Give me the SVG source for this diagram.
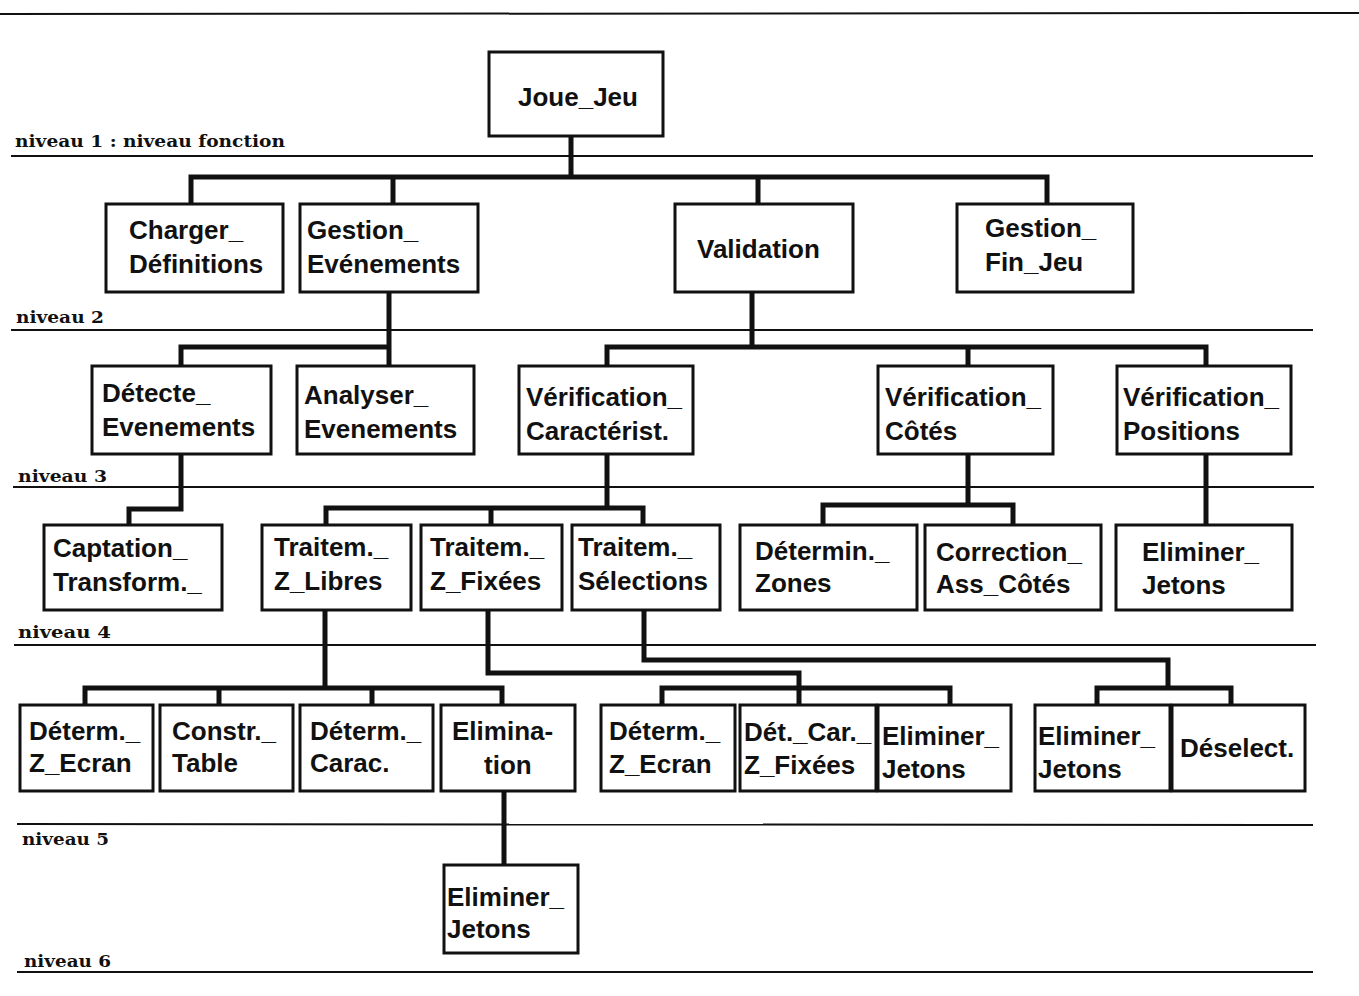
<svg xmlns="http://www.w3.org/2000/svg" width="1359" height="996" viewBox="0 0 1359 996">
<style>
.bg{fill:#ffffff}
.box{fill:#ffffff;stroke:#111111;stroke-width:3}
.t{font-family:"Liberation Sans",Arial,sans-serif;font-weight:bold;font-size:26px;fill:#111111}
.lvl{font-family:"DejaVu Serif","Liberation Serif",serif;font-weight:bold;font-size:16px;fill:#111111}
.sep{stroke:#111111;stroke-width:2;fill:none}
.con{stroke:#111111;stroke-width:5;fill:none;stroke-linejoin:miter;stroke-linecap:square}
</style>
<rect class="bg" x="0" y="0" width="1359" height="996"/>
<g id="levels">
<line class="sep" x1="0" y1="14" x2="1359" y2="13"/>
<line class="sep" x1="11" y1="156" x2="1313" y2="156"/>
<line class="sep" x1="11" y1="330" x2="1313" y2="330"/>
<line class="sep" x1="13" y1="487" x2="1314" y2="487"/>
<line class="sep" x1="14" y1="645" x2="1316" y2="645"/>
<line class="sep" x1="17" y1="824" x2="1313" y2="825"/>
<line class="sep" x1="17" y1="972" x2="1313" y2="972"/>
<text class="lvl" x="15" y="147" textLength="270" lengthAdjust="spacingAndGlyphs">niveau 1 : niveau fonction</text>
<text class="lvl" x="16" y="323" textLength="88" lengthAdjust="spacingAndGlyphs">niveau 2</text>
<text class="lvl" x="18" y="482" textLength="89" lengthAdjust="spacingAndGlyphs">niveau 3</text>
<text class="lvl" x="18" y="638" textLength="93" lengthAdjust="spacingAndGlyphs">niveau 4</text>
<text class="lvl" x="22" y="845" textLength="87" lengthAdjust="spacingAndGlyphs">niveau 5</text>
<text class="lvl" x="24" y="967" textLength="87" lengthAdjust="spacingAndGlyphs">niveau 6</text>
</g>
<g id="connectors">
<path class="con" d="M571 136 V177 M191 204 V177 H1047 V204 M393 177 V204 M758 177 V204"/>
<path class="con" d="M389 292 V366 M181 366 V347 H389"/>
<path class="con" d="M752 292 V347 M607 366 V347 H1206 V366 M968 347 V366"/>
<path class="con" d="M181 454 V509 H129 V525"/>
<path class="con" d="M607 454 V508 M326 525 V508 H643 V525 M491 508 V525"/>
<path class="con" d="M968 454 V505 M823 525 V505 H1013 V525"/>
<path class="con" d="M1206 454 V525"/>
<path class="con" d="M325 610 V688 M85 705 V688 H502 V705 M219 688 V705 M372 688 V705"/>
<path class="con" d="M488 610 V673 H799 V705 M662 705 V688 H950 V705"/>
<path class="con" d="M644 610 V660 H1168 V688 M1097 705 V688 H1231 V705"/>
<path class="con" d="M504 792 V865"/>
</g>
<g id="joue_jeu"><rect class="box" x="489" y="52" width="174" height="84"/><text class="t" x="518" y="106">Joue_Jeu</text></g>
<g id="charger_definitions"><rect class="box" x="106" y="204" width="177" height="88"/><text class="t" x="129" y="239">Charger_</text><text class="t" x="129" y="273">Définitions</text></g>
<g id="gestion_evenements"><rect class="box" x="300" y="204" width="178" height="88"/><text class="t" x="307" y="239">Gestion_</text><text class="t" x="307" y="273">Evénements</text></g>
<g id="validation"><rect class="box" x="675" y="204" width="178" height="88"/><text class="t" x="697" y="258">Validation</text></g>
<g id="gestion_fin_jeu"><rect class="box" x="957" y="204" width="176" height="88"/><text class="t" x="985" y="237">Gestion_</text><text class="t" x="985" y="271">Fin_Jeu</text></g>
<g id="detecte_evenements"><rect class="box" x="92" y="366" width="179" height="88"/><text class="t" x="102" y="402">Détecte_</text><text class="t" x="102" y="436">Evenements</text></g>
<g id="analyser_evenements"><rect class="box" x="297" y="366" width="177" height="88"/><text class="t" x="304" y="404">Analyser_</text><text class="t" x="304" y="438">Evenements</text></g>
<g id="verification_caracterist"><rect class="box" x="519" y="366" width="174" height="88"/><text class="t" x="526" y="406">Vérification_</text><text class="t" x="526" y="440">Caractérist.</text></g>
<g id="verification_cotes"><rect class="box" x="878" y="366" width="175" height="88"/><text class="t" x="885" y="406">Vérification_</text><text class="t" x="885" y="440">Côtés</text></g>
<g id="verification_positions"><rect class="box" x="1117" y="366" width="174" height="88"/><text class="t" x="1123" y="406">Vérification_</text><text class="t" x="1123" y="440">Positions</text></g>
<g id="captation_transform"><rect class="box" x="44" y="525" width="178" height="85"/><text class="t" x="53" y="557">Captation_</text><text class="t" x="53" y="591">Transform._</text></g>
<g id="traitem_z_libres"><rect class="box" x="262" y="525" width="149" height="85"/><text class="t" x="274" y="556">Traitem._</text><text class="t" x="274" y="590">Z_Libres</text></g>
<g id="traitem_z_fixees"><rect class="box" x="421" y="525" width="141" height="85"/><text class="t" x="430" y="556">Traitem._</text><text class="t" x="430" y="590">Z_Fixées</text></g>
<g id="traitem_selections"><rect class="box" x="572" y="525" width="148" height="85"/><text class="t" x="578" y="556">Traitem._</text><text class="t" x="578" y="590">Sélections</text></g>
<g id="determin_zones"><rect class="box" x="740" y="525" width="177" height="85"/><text class="t" x="755" y="560">Détermin._</text><text class="t" x="755" y="592">Zones</text></g>
<g id="correction_ass_cotes"><rect class="box" x="925" y="525" width="176" height="85"/><text class="t" x="936" y="561">Correction_</text><text class="t" x="936" y="593">Ass_Côtés</text></g>
<g id="eliminer_jetons_4"><rect class="box" x="1116" y="525" width="176" height="85"/><text class="t" x="1142" y="561">Eliminer_</text><text class="t" x="1142" y="594">Jetons</text></g>
<g id="determ_z_ecran_1"><rect class="box" x="20" y="705" width="133" height="86"/><text class="t" x="29" y="740">Déterm._</text><text class="t" x="29" y="772">Z_Ecran</text></g>
<g id="constr_table"><rect class="box" x="160" y="705" width="133" height="86"/><text class="t" x="172" y="740">Constr._</text><text class="t" x="172" y="772">Table</text></g>
<g id="determ_carac"><rect class="box" x="300" y="705" width="133" height="86"/><text class="t" x="310" y="740">Déterm._</text><text class="t" x="310" y="772">Carac.</text></g>
<g id="elimination"><rect class="box" x="441" y="705" width="134" height="86"/><text class="t" x="452" y="740">Elimina-</text><text class="t" x="484" y="774">tion</text></g>
<g id="determ_z_ecran_2"><rect class="box" x="601" y="705" width="134" height="86"/><text class="t" x="609" y="740">Déterm._</text><text class="t" x="609" y="773">Z_Ecran</text></g>
<g id="det_car_z_fixees"><rect class="box" x="740" y="705" width="136" height="86"/><text class="t" x="744" y="741">Dét._Car._</text><text class="t" x="744" y="774">Z_Fixées</text></g>
<g id="eliminer_jetons_5a"><rect class="box" x="878" y="705" width="133" height="86"/><text class="t" x="882" y="745">Eliminer_</text><text class="t" x="882" y="778">Jetons</text></g>
<g id="eliminer_jetons_5b"><rect class="box" x="1035" y="705" width="135" height="86"/><text class="t" x="1038" y="745">Eliminer_</text><text class="t" x="1038" y="778">Jetons</text></g>
<g id="deselect"><rect class="box" x="1172" y="705" width="133" height="86"/><text class="t" x="1180" y="757">Déselect.</text></g>
<g id="eliminer_jetons_6"><rect class="box" x="444" y="865" width="134" height="88"/><text class="t" x="447" y="906">Eliminer_</text><text class="t" x="447" y="938">Jetons</text></g>
</svg>
